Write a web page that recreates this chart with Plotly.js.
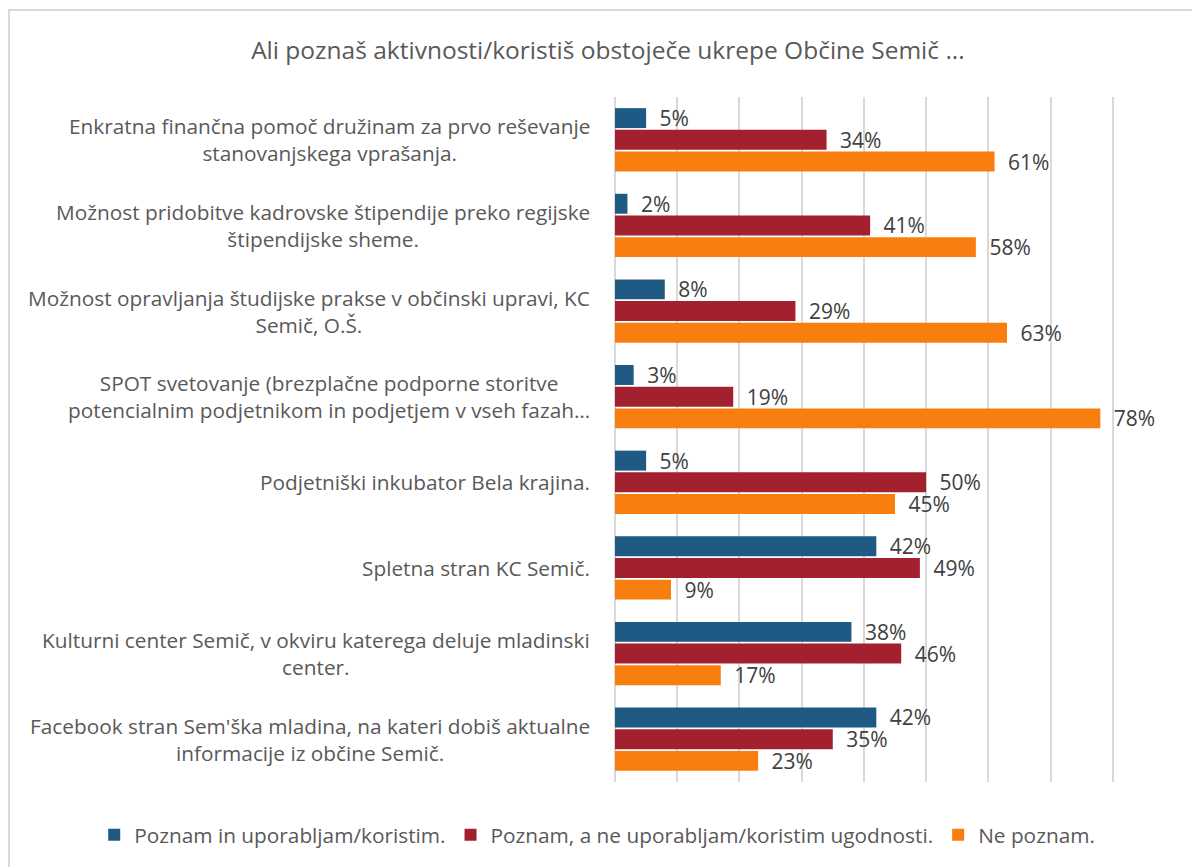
<!DOCTYPE html>
<html>
<head>
<meta charset="utf-8">
<script src="https://cdn.plot.ly/plotly-3.0.1.min.js"></script>
<style>
  html, body { margin:0; padding:0; background:#ffffff; }
  #frame { position:absolute; left:8px; top:9px; width:1200px; height:880px; border:2px solid #d9d9d9; box-sizing:border-box; }
  #chart { position:absolute; left:0; top:0; width:1192px; height:867px; }
</style>
</head>
<body>
<div id="frame"></div>
<div id="chart"></div>
<script>
const categories = [
  "Enkratna finančna pomoč družinam za prvo reševanje<br>stanovanjskega vprašanja.",
  "Možnost pridobitve kadrovske štipendije preko regijske<br>štipendijske sheme.",
  "Možnost opravljanja študijske prakse v občinski upravi, KC<br>Semič, O.Š.",
  "SPOT svetovanje (brezplačne podporne storitve<br>potencialnim podjetnikom in podjetjem v vseh fazah…",
  "Podjetniški inkubator Bela krajina.",
  "Spletna stran KC Semič.",
  "Kulturni center Semič, v okviru katerega deluje mladinski<br>center.",
  "Facebook stran Sem'ška mladina, na kateri dobiš aktualne<br>informacije iz občine Semič."
];
const seriesNames = [
  "Poznam in uporabljam/koristim.",
  "Poznam, a ne uporabljam/koristim ugodnosti.",
  "Ne poznam."
];
const usePct = [5, 2, 8, 3, 5, 42, 38, 42];
const knowPct = [34, 41, 29, 19, 50, 49, 46, 35];
const unknownPct = [61, 58, 63, 78, 45, 9, 17, 23];
const titleText = "Ali poznaš aktivnosti/koristiš obstoječe ukrepe Občine Semič ...";

const colors = ["#1F5A85", "#A3202F", "#F97E10"];
const FONT = "Open Sans, sans-serif";

function mk(vals, i) {
  return {
    type: "bar", orientation: "h",
    y: categories, x: vals, name: seriesNames[i],
    marker: { color: colors[i] },
    texttemplate: "\u2002%{x}%",
    textposition: "outside",
    constraintext: "none",
    cliponaxis: false,
    textfont: { family: FONT, size: 21, color: "#404040" },
    hoverinfo: "skip"
  };
}
const data = [mk(usePct, 0), mk(knowPct, 1), mk(unknownPct, 2)];

const annotations = categories.map(c => ({
  xref: "paper", yref: "y", x: 0, y: c, xshift: -23,
  xanchor: "right", yanchor: "middle", align: "center",
  text: c, showarrow: false,
  font: { family: FONT, size: 20.8, color: "#595959" }
}));

const layout = {
  width: 1192, height: 867,
  paper_bgcolor: "rgba(0,0,0,0)", plot_bgcolor: "rgba(0,0,0,0)",
  margin: { l: 615, r: 17, t: 97, b: 84 },
  barmode: "group", bargap: 0.24, bargroupgap: 0.08,
  title: { text: titleText, xref: "container", x: 0.51, y: 0.942, yanchor: "middle",
           font: { family: FONT, size: 24.5, color: "#595959" } },
  xaxis: { range: [0, 90], dtick: 10, showticklabels: false, showgrid: true,
           gridcolor: "#d9d9d9", gridwidth: 2, zeroline: true, zerolinecolor: "#d9d9d9",
           zerolinewidth: 2, showline: false, fixedrange: true },
  yaxis: { autorange: "reversed", showticklabels: false, showgrid: false,
           showline: false, ticks: "", fixedrange: true },
  showlegend: true,
  legend: { orientation: "h", xref: "paper", yref: "paper", x: -0.93, y: -0.076,
            xanchor: "left", yanchor: "middle", traceorder: "normal",
            font: { family: FONT, size: 20.8, color: "#595959" } },
  annotations: annotations,
  font: { family: FONT, color: "#595959" }
};
Plotly.newPlot("chart", data, layout, { displayModeBar: false, staticPlot: true });
</script>
</body>
</html>
